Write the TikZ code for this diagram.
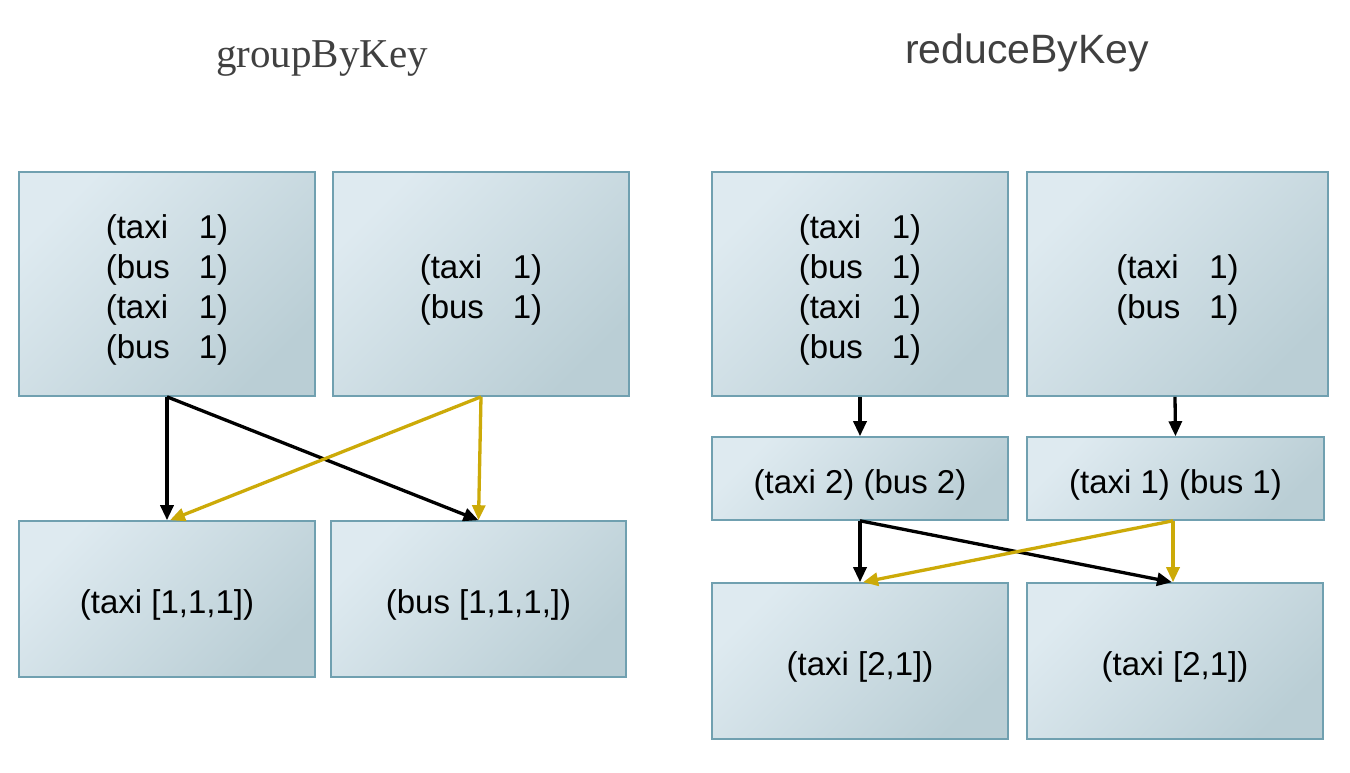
\documentclass[tikz,border=0pt]{standalone}
\usepackage{fontspec}
\setmainfont{Liberation Sans}
\newfontfamily\titleserif{Liberation Serif}
\usetikzlibrary{arrows.meta}
\definecolor{boxline}{RGB}{112,160,176}
\definecolor{boxlight}{RGB}{222,234,240}
\definecolor{boxdark}{RGB}{186,206,213}
\definecolor{gold}{RGB}{204,170,8}
\definecolor{titlegray}{RGB}{64,64,64}
\newcommand{\kv}[2]{\makebox[2.82em][l]{(#1}#2)}
\newcommand{\dn}{\rule{0pt}{36pt}}
\begin{document}
\begin{tikzpicture}[x=1pt,y=-1pt,
  box/.style={draw=boxline, line width=1.6pt, top color=boxlight, bottom color=boxdark,
    shading angle=45, inner sep=0pt, align=center,
    font=\fontsize{33}{40}\selectfont},
  title/.style={text=titlegray, inner sep=0pt, anchor=base},
  conn/.style={line width=3.3pt, -{Triangle[length=15pt,width=13pt]}},
  blk/.style={conn, draw=black},
  gld/.style={conn, draw=gold}
]
\useasboundingbox (0,0) rectangle (1350,773);
\node[title, font=\titleserif\fontsize{41}{48}\selectfont] (t1) at (322,68) {groupByKey};
\node[title, font=\fontsize{41}{48}\selectfont] (t2) at (1027,64) {reduceByKey};

\node[box, minimum width=296, minimum height=224] (A1) at (167,284)
  {\dn\kv{taxi}{1}\\\kv{bus}{1}\\\kv{taxi}{1}\\\kv{bus}{1}};
\node[box, minimum width=296, minimum height=224] (A2) at (481,284)
  {\dn\kv{taxi}{1}\\\kv{bus}{1}};
\node[box, minimum width=296, minimum height=156] (A3) at (167,599) {\dn(taxi [1,1,1])};
\node[box, minimum width=295, minimum height=156] (A4) at (478.5,599) {\dn(bus [1,1,1,])};

\node[box, minimum width=296, minimum height=224] (B1) at (860,284)
  {\dn\kv{taxi}{1}\\\kv{bus}{1}\\\kv{taxi}{1}\\\kv{bus}{1}};
\node[box, minimum width=301, minimum height=224] (B2) at (1177.5,284)
  {\dn\kv{taxi}{1}\\\kv{bus}{1}};
\node[box, minimum width=296, minimum height=83] (B3) at (860,478.5) {\dn(taxi 2) (bus 2)};
\node[box, minimum width=297, minimum height=83] (B4) at (1175.5,478.5) {\dn(taxi 1) (bus 1)};
\node[box, minimum width=296, minimum height=156] (B5) at (860,661) {\dn(taxi [2,1])};
\node[box, minimum width=296, minimum height=156] (B6) at (1175,661) {\dn(taxi [2,1])};

% groupByKey connectors
\draw[blk] (A1.south) -- (A3.north);
\draw[blk] (A1.south) -- (A4.north);
\draw[gld] (A2.south) -- ([xshift=3pt]A3.north);
\draw[gld] (A2.south) -- (A4.north);

% reduceByKey connectors
\draw[blk] (B1.south) -- (B3.north);
\draw[blk] ([xshift=-2.5pt]B2.south) -- (B4.north);
\draw[blk] (B3.south) -- (B5.north);
\draw[blk] (B3.south) -- ([xshift=-3pt]B6.north);
\draw[gld] ([xshift=-2.5pt]B4.south) -- ([xshift=3pt]B5.north);
\draw[gld] ([xshift=-2.5pt]B4.south) -- ([xshift=-2pt]B6.north);
\end{tikzpicture}
\end{document}
